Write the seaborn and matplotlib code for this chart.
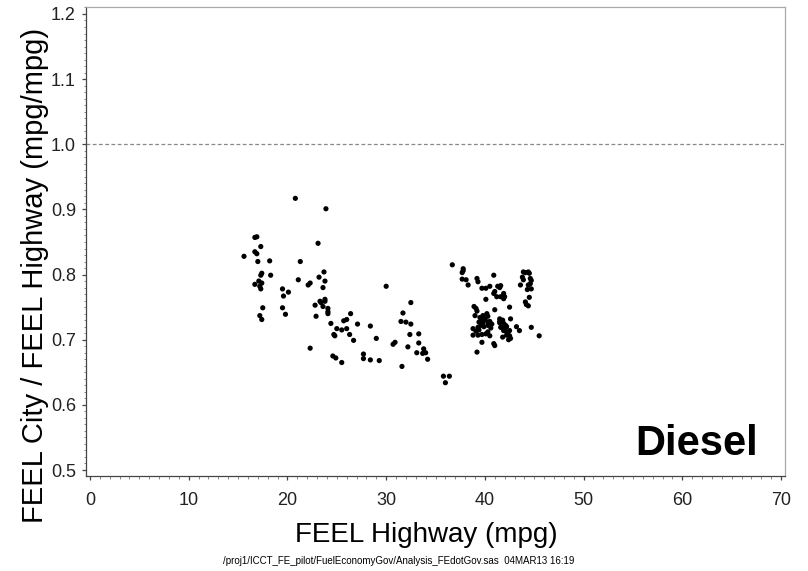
import numpy as np
import pandas as pd
import seaborn as sns
import matplotlib
matplotlib.use("Agg")
import matplotlib.pyplot as plt
from matplotlib.ticker import MultipleLocator, FormatStrFormatter

# FEEL Highway (mpg)
highway = [
    20.8, 16.7, 16.9, 17.3, 15.6, 16.7, 16.9, 17.0, 18.2, 21.3,
    17.4, 17.3, 18.3, 17.1, 16.7, 17.4, 17.2, 17.3, 21.1, 19.5,
    20.1, 19.6, 17.5, 19.5, 19.8, 17.2, 17.4,
    23.9, 23.1, 23.7, 23.2, 23.8, 22.3, 22.1, 23.6, 23.8, 23.8,
    23.3, 23.4, 22.8, 23.6, 24.1, 24.1, 24.1, 22.9, 26.4, 25.7,
    26.0, 24.4, 27.1, 25.0, 25.5, 26.0, 28.4, 26.3, 24.7, 24.8,
    26.7, 22.3, 27.7, 27.7, 24.6, 24.9, 25.5, 28.4,
    30.0, 32.5, 31.7, 31.5, 32.0, 32.5, 32.4, 33.3, 29.0, 30.7,
    30.9, 33.3, 32.2, 33.8, 33.1, 33.7, 34.0, 34.2, 29.3, 31.6,
    35.8, 36.4, 36.0,
    36.7, 37.8, 37.8, 37.7, 37.7, 38.1, 38.3, 39.2, 39.3, 40.9,
    39.7, 40.1, 40.5, 41.0, 41.3, 41.6, 40.9, 41.2, 40.1, 41.6,
    38.9, 39.1, 39.2, 41.0, 39.0, 39.5, 39.8, 40.0, 40.3, 39.4,
    39.7, 39.8, 40.3, 40.5, 40.7, 39.9, 40.3, 40.6, 38.8, 39.3,
    39.4, 41.5, 41.6, 38.8, 39.3, 39.7, 40.1, 40.3, 40.5, 39.7,
    40.9, 41.0, 39.2, 39.6, 40.0, 39.1, 40.2,
    43.9, 44.1, 44.4, 44.5, 43.8, 43.9, 44.6, 44.7, 43.6, 44.4,
    44.6, 44.3, 44.7, 41.5, 41.9, 42.0, 41.9, 42.5, 44.5, 44.1,
    44.2, 44.4, 41.5, 41.8, 41.5, 41.9, 42.6, 41.7, 42.0, 42.2,
    41.9, 42.2, 42.5, 42.2, 42.5, 42.6, 42.4, 43.2, 43.5, 44.7,
    45.5, 42.1, 42.3, 41.8,
]
# FEEL City / FEEL Highway (mpg/mpg)
ratio = [
    0.917, 0.857, 0.858, 0.843, 0.828, 0.835, 0.832, 0.820, 0.821, 0.820,
    0.802, 0.799, 0.799, 0.790, 0.785, 0.787, 0.782, 0.778, 0.792, 0.778,
    0.773, 0.767, 0.749, 0.749, 0.739, 0.737, 0.731,
    0.901, 0.848, 0.804, 0.796, 0.790, 0.787, 0.784, 0.780, 0.762, 0.759,
    0.759, 0.757, 0.753, 0.751, 0.748, 0.743, 0.740, 0.736, 0.740, 0.729,
    0.731, 0.725, 0.724, 0.717, 0.715, 0.717, 0.721, 0.708, 0.708, 0.706,
    0.699, 0.687, 0.678, 0.671, 0.675, 0.672, 0.665, 0.669,
    0.782, 0.757, 0.741, 0.728, 0.727, 0.724, 0.708, 0.709, 0.702, 0.693,
    0.696, 0.695, 0.689, 0.686, 0.680, 0.679, 0.680, 0.670, 0.668, 0.659,
    0.644, 0.644, 0.634,
    0.815, 0.809, 0.806, 0.803, 0.793, 0.792, 0.784, 0.794, 0.789, 0.799,
    0.779, 0.779, 0.782, 0.774, 0.782, 0.783, 0.771, 0.766, 0.762, 0.766,
    0.751, 0.748, 0.744, 0.746, 0.737, 0.734, 0.737, 0.731, 0.736, 0.727,
    0.729, 0.726, 0.727, 0.728, 0.724, 0.720, 0.722, 0.718, 0.717, 0.719,
    0.715, 0.728, 0.719, 0.707, 0.707, 0.708, 0.709, 0.712, 0.706, 0.696,
    0.694, 0.691, 0.681, 0.722, 0.732, 0.713, 0.740,
    0.804, 0.803, 0.804, 0.802, 0.796, 0.792, 0.794, 0.791, 0.784, 0.784,
    0.786, 0.777, 0.778, 0.780, 0.771, 0.766, 0.763, 0.750, 0.765, 0.758,
    0.754, 0.752, 0.732, 0.730, 0.726, 0.725, 0.732, 0.719, 0.717, 0.720,
    0.714, 0.712, 0.714, 0.707, 0.706, 0.702, 0.700, 0.720, 0.714, 0.719,
    0.706, 0.722, 0.710, 0.704,
]

x_ticks = [0, 10, 20, 30, 40, 50, 60, 70]
y_ticks = [0.5, 0.6, 0.7, 0.8, 0.9, 1.0, 1.1, 1.2]

df = pd.DataFrame({"highway": highway, "ratio": ratio})

sns.set_style("white")
plt.rcParams["font.family"] = ["Liberation Sans", "DejaVu Sans"]

W, H = 808, 571
L, R, T, B = 86, 785, 7, 476
fig = plt.figure(figsize=(W / 100, H / 100), dpi=100)
ax = fig.add_axes([L / W, 1 - B / H, (R - L) / W, (B - T) / H])

ax.axhline(1.0, color="#888888", linewidth=0.9, linestyle=(0, (3, 2)), zorder=1)

sns.scatterplot(data=df, x="highway", y="ratio", ax=ax, color="black",
                s=14, linewidth=0, edgecolor="none", legend=False, zorder=3)

ax.set_xlim(-0.405, 70.4)
ax.set_ylim(0.4908, 1.2107)
ax.set_xticks(x_ticks)
ax.set_yticks(y_ticks)
ax.yaxis.set_major_formatter(FormatStrFormatter("%.1f"))
ax.xaxis.set_minor_locator(MultipleLocator(1))
ax.yaxis.set_minor_locator(MultipleLocator(0.01))

ax.tick_params(axis="both", which="major", direction="out", length=3, width=0.9,
               color="#444444", labelsize=13, labelcolor="#222222",
               bottom=True, left=True)
ax.tick_params(axis="x", which="major", pad=8.5)
ax.tick_params(axis="y", which="major", pad=4.2)
ax.tick_params(axis="both", which="minor", direction="out", length=1.8, width=0.6,
               color="#777777", bottom=True, left=True)

for side in ["left", "bottom"]:
    ax.spines[side].set_color("#444444")
    ax.spines[side].set_linewidth(0.9)
for side in ["top", "right"]:
    ax.spines[side].set_color("#aaaaaa")
    ax.spines[side].set_linewidth(0.9)

ax.set_xlabel("FEEL Highway (mpg)", fontsize=20, color="black")
ax.xaxis.set_label_coords((426 - L) / (R - L), (B - 522.5) / (B - T))
ax.set_ylabel("FEEL City / FEEL Highway (mpg/mpg)", fontsize=21, color="black")
ax.yaxis.set_label_coords((48.7 - L) / (R - L), (B - 275) / (B - T))

ax.text((758 - L) / (R - L), (B - 455) / (B - T), "Diesel", transform=ax.transAxes,
        ha="right", va="baseline", fontsize=30, fontweight="bold", color="black")

fig.text(398.5 / W, 1 - 561 / H,
         "/proj1/ICCT_FE_pilot/FuelEconomyGov/Analysis_FEdotGov.sas  04MAR13 16:19",
         ha="center", va="center", fontsize=7, color="black")

fig.savefig("out.png", dpi=100)
